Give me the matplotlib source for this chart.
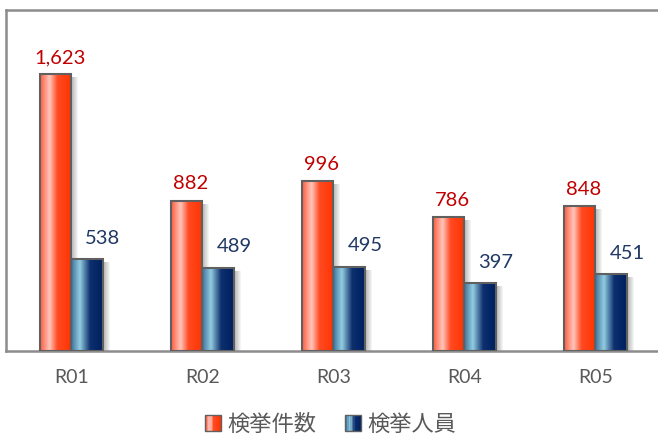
import numpy as np
import matplotlib
matplotlib.use("Agg")
import matplotlib.pyplot as plt
from matplotlib.patches import Rectangle
from matplotlib.colors import LinearSegmentedColormap
from matplotlib.legend_handler import HandlerBase

categories = ["R01", "R02", "R03", "R04", "R05"]
cases = [1623, 882, 996, 786, 848]      # 検挙件数
persons = [538, 489, 495, 397, 451]     # 検挙人員
series_names = ["検挙件数", "検挙人員"]

red_cmap = LinearSegmentedColormap.from_list(
    "redgrad", [(0.0, "#ff5a3a"), (0.3, "#ffc6bc"), (0.55, "#ff4a22"), (1.0, "#ff3300")])
blue_cmap = LinearSegmentedColormap.from_list(
    "bluegrad", [(0.0, "#3d6f9c"), (0.28, "#93cde0"), (0.6, "#0d2f6e"), (1.0, "#002060")])

fig = plt.figure(figsize=(6.58, 4.34), dpi=100)
ax = fig.add_axes([6 / 658, 83 / 434, 655 / 658, 341 / 434])
ax.set_xlim(-0.5, 4.5)
ax.set_ylim(0, 2000)

x = np.arange(len(categories))
w = 0.24
b1 = ax.bar(x - w / 2, cases, w, facecolor="none", edgecolor="#606060", linewidth=1.5, zorder=4)
b2 = ax.bar(x + w / 2, persons, w, facecolor="none", edgecolor="#606060", linewidth=1.5, zorder=4)

grad = np.linspace(0, 1, 256).reshape(1, -1)
px_x = 1 / 131.0
px_y = 2000 / 341.0

def decorate(bars, cmap):
    for p in bars.patches:
        x0, y0 = p.get_x(), p.get_y()
        bw, bh = p.get_width(), p.get_height()
        # soft shadow to the right
        for k in range(1, 8):
            ax.add_patch(Rectangle((x0 + bw, y0), k * px_x, max(bh - 3 * px_y, 0),
                                   facecolor="#000000", alpha=0.045, edgecolor="none", zorder=1))
        im = ax.imshow(grad, cmap=cmap, aspect="auto", extent=[x0, x0 + bw, y0, y0 + bh],
                       zorder=3, interpolation="bilinear")
        clip = Rectangle((x0, y0), bw, bh, transform=ax.transData, facecolor="none")
        im.set_clip_path(clip)

decorate(b1, red_cmap)
decorate(b2, blue_cmap)
ax.set_xlim(-0.5, 4.5)
ax.set_ylim(0, 2000)
ax.set_aspect("auto")

for p, v in zip(b1.patches, cases):
    ax.annotate(f"{v:,}", (p.get_x() + p.get_width() / 2 + 0.03, p.get_height()),
                xytext=(0, 6), textcoords="offset points", ha="center", va="bottom",
                color="#c00000", fontsize=14.5, family="Lato", zorder=5)
for p, v in zip(b2.patches, persons):
    ax.annotate(f"{v:,}", (p.get_x() + p.get_width(), p.get_height()),
                xytext=(0, 9), textcoords="offset points", ha="center", va="bottom",
                color="#1f3864", fontsize=14.5, family="Lato", zorder=5)

ax.set_xticks(x)
ax.set_xticklabels(categories, fontsize=14, color="#595959", family="Lato")
ax.tick_params(axis="x", length=0, pad=13)
ax.set_yticks([])
for s in ["left", "top", "bottom"]:
    ax.spines[s].set_color("#8c8c8c")
    ax.spines[s].set_linewidth(1.8)
ax.spines["right"].set_visible(False)


class GradHandler(HandlerBase):
    def __init__(self, cmap):
        super().__init__()
        self.cmap = cmap

    def create_artists(self, legend, orig_handle, xdescent, ydescent, width, height, fontsize, trans):
        s = height * 1.0
        x0 = -xdescent + width - s
        y0 = -ydescent + (height - s) / 2
        arts = []
        n = 10
        for i in range(n):
            arts.append(Rectangle((x0 + i * s / n, y0), s / n, s, facecolor=self.cmap((i + 0.5) / n),
                                  edgecolor="none", transform=trans))
        arts.append(Rectangle((x0, y0), s, s, facecolor="none", edgecolor="#606060",
                              linewidth=1.0, transform=trans))
        return arts


leg = fig.legend([b1, b2], series_names, loc="center", bbox_to_anchor=(331 / 658, 1 - 424 / 434),
                 ncol=2, frameon=False, handler_map={b1: GradHandler(red_cmap), b2: GradHandler(blue_cmap)},
                 prop={"family": ["Noto Sans CJK JP", "DejaVu Sans"], "size": 16},
                 handlelength=0.7, handletextpad=0.3, columnspacing=1.3)
for t in leg.get_texts():
    t.set_color("#595959")

fig.savefig("out.png", dpi=100)
